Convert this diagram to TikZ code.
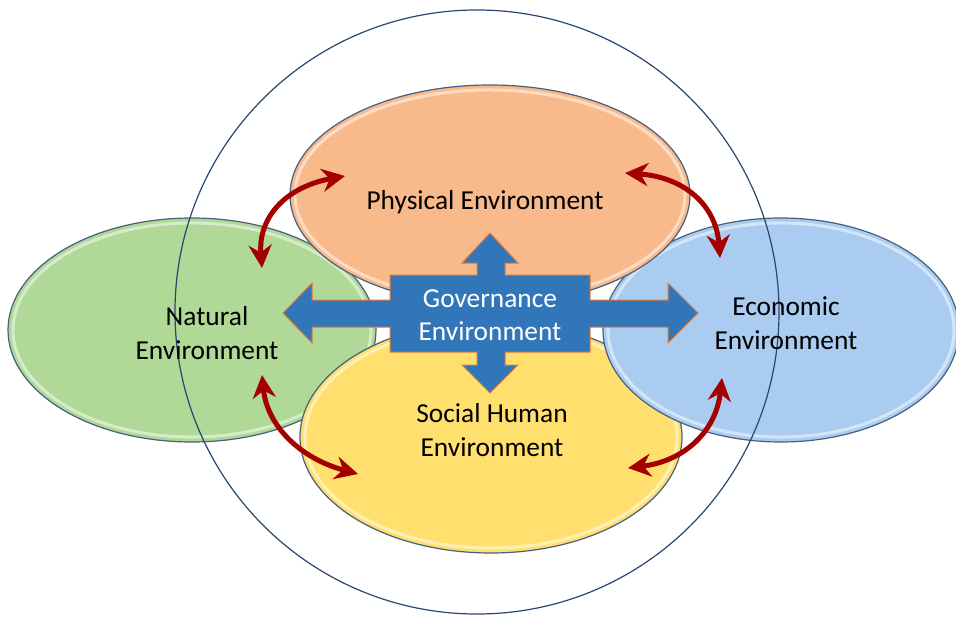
\documentclass[tikz,border=0pt]{standalone}
\usepackage{fontspec}
\setmainfont{Carlito}
\usepackage{xcolor}
\usetikzlibrary{shapes.geometric,arrows.meta,calc}

\definecolor{xanhla}{RGB}{176,216,150}
\definecolor{cam}{RGB}{249,186,139}
\definecolor{vang}{RGB}{255,224,110}
\definecolor{xanhtroi}{RGB}{169,204,240}
\definecolor{vien}{RGB}{70,96,126}
\definecolor{xanhdam}{RGB}{50,118,186}
\definecolor{camdam}{RGB}{224,123,57}
\definecolor{dodam}{RGB}{165,0,0}
\definecolor{vongtron}{RGB}{40,70,110}

\begin{document}
\begin{tikzpicture}[x=1bp,y=-1bp,
		elip/.style={ellipse, draw=vien, line width=1.2bp, inner sep=0pt,
			path picture={\draw[white, opacity=.5, line width=3bp] let \p1=($(path picture bounding box.north east)-(path picture bounding box.center)$) in (path picture bounding box.center) ellipse [x radius={abs(\x1)-5pt}, y radius={abs(\y1)-5pt}];}},
		chu/.style={align=center, font=\fontsize{27.4bp}{33.5bp}\selectfont},
		muiten/.style={dodam, line width=5bp, {Stealth[length=23bp,width=23bp]}-{Stealth[length=23bp,width=23bp]}}]
			\useasboundingbox (0,0) rectangle (956,617);
			% Vẽ các hình elip
			\node[elip, fill=xanhla, minimum width=368bp, minimum height=224bp] (tunhien) at (192,330) {};
			\node[elip, fill=vang, minimum width=382bp, minimum height=232bp] (xahoi) at (491,437) {};
			\node[elip, fill=xanhtroi, minimum width=356bp, minimum height=224bp] (kinhte) at (781,330) {};
			\node[elip, fill=cam, minimum width=400bp, minimum height=220bp] (vatchat) at (490,195) {};
			% Vẽ đường tròn lớn
			\node[circle, draw=vongtron, line width=1.2bp, minimum size=604bp, inner sep=0pt] (vong) at (477,312) {};
			% Vẽ mũi tên bốn chiều
			\draw[fill=xanhdam, draw=camdam, line width=1bp] (283,313) -- (312,283) -- (312,300) -- (390,300) -- (390,275) -- (477,275) -- (477,263) -- (462,263) -- (490,233) -- (518,263) -- (505,263) -- (505,275) -- (590,275) -- (590,300) -- (668,300) -- (668,283) -- (698,313) -- (668,343) -- (668,327) -- (590,327) -- (590,352) -- (505,352) -- (505,365) -- (518,365) -- (490,393) -- (462,365) -- (477,365) -- (477,352) -- (390,352) -- (390,327) -- (312,327) -- (312,343) -- cycle;
			% Chữ
			\node[chu] (tvatchat) at (485,202) {Physical Environment};
			\node[chu] (ttunhien) at (207,333) {Natural\\Environment};
			\node[chu, white] (tquanly) at (490,315) {Governance\\Environment};
			\node[chu] (tkinhte) at (786,323) {Economic\\Environment};
			\node[chu] (txahoi) at (492,430) {Social Human\\Environment};
			% Vẽ mũi tên cong
			\coordinate (a1) at (262,268);
			\coordinate (a2) at (345,176);
			\coordinate (b1) at (262,375);
			\coordinate (b2) at (358,474);
			\coordinate (c1) at (625,173);
			\coordinate (c2) at (720,258);
			\coordinate (d1) at (722,378);
			\coordinate (d2) at (628,468);
			\draw[muiten] (a1) .. controls (258,217) and (286,187) .. (a2);
			\draw[muiten] (b1) .. controls (267,425) and (299,458) .. (b2);
			\draw[muiten] (c1) .. controls (684,177) and (716,205) .. (c2);
			\draw[muiten] (d1) .. controls (716,431) and (685,461) .. (d2);
		\end{tikzpicture}
\end{document}
